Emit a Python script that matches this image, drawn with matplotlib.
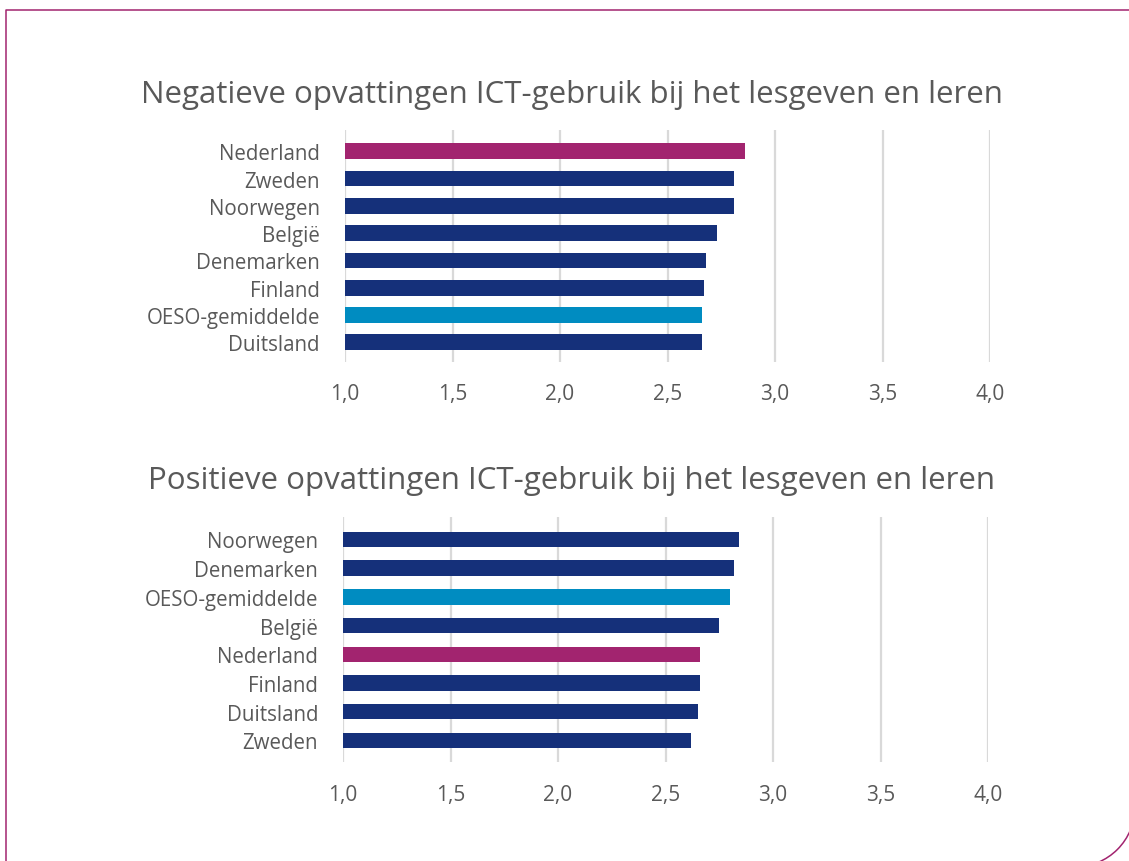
import matplotlib.pyplot as plt
from matplotlib.patches import Arc

NAVY = '#15307A'
MAGENTA = '#A2246F'
CYAN = '#008CC1'
GREY_TXT = '#595959'
GRID = '#D9D9D9'

neg_labels = ['Nederland', 'Zweden', 'Noorwegen', 'België', 'Denemarken',
              'Finland', 'OESO-gemiddelde', 'Duitsland']
neg_values = [2.86, 2.81, 2.81, 2.73, 2.68, 2.67, 2.66, 2.66]

pos_labels = ['Noorwegen', 'Denemarken', 'OESO-gemiddelde', 'België', 'Nederland',
              'Finland', 'Duitsland', 'Zweden']
pos_values = [2.84, 2.82, 2.80, 2.75, 2.66, 2.66, 2.65, 2.62]

ticks = [1.0, 1.5, 2.0, 2.5, 3.0, 3.5, 4.0]
tick_labels = ['1,0', '1,5', '2,0', '2,5', '3,0', '3,5', '4,0']

plt.rcParams['font.family'] = ['Open Sans', 'DejaVu Sans']

W, H = 1129, 862
fig = plt.figure(figsize=(W / 100, H / 100), dpi=100)


def bar_color(name):
    if name == 'Nederland':
        return MAGENTA
    if name == 'OESO-gemiddelde':
        return CYAN
    return NAVY


def draw_panel(rect, labels, values, height, ylim, pad_x):
    ax = fig.add_axes(rect)
    y = range(len(labels))
    widths = [v - 1.0 for v in values]
    ax.barh(y, widths, left=1.0, height=height,
            color=[bar_color(l) for l in labels], zorder=3)
    ax.set_xlim(1.0, 4.0)
    ax.set_ylim(*ylim)
    ax.set_xticks(ticks)
    ax.set_xticklabels(tick_labels, fontsize=15, color=GREY_TXT)
    ax.set_yticks(list(y))
    ax.set_yticklabels(labels, fontsize=14.8, color=GREY_TXT, va='center_baseline')
    ax.tick_params(axis='y', length=0, pad=18)
    ax.tick_params(axis='x', length=0, pad=pad_x)
    ax.grid(axis='x', color=GRID, linewidth=1.6, zorder=0)
    ax.set_axisbelow(True)
    for s in ax.spines.values():
        s.set_visible(False)
    return ax


draw_panel([345 / W, 1 - 363 / H, 645 / W, 232 / H], neg_labels, neg_values,
           0.58, (7.72, -0.78), 15)
draw_panel([343 / W, 1 - 763 / H, 645 / W, 245 / H], pos_labels, pos_values,
           0.54, (7.75, -0.78), 16)

fig.text(572 / W, 1 - 95 / H, 'Negatieve opvattingen ICT-gebruik bij het lesgeven en leren',
         ha='center', va='center', fontsize=22.5, color=GREY_TXT)
fig.text(572 / W, 1 - 481 / H, 'Positieve opvattingen ICT-gebruik bij het lesgeven en leren',
         ha='center', va='center', fontsize=22.5, color=GREY_TXT)

# magenta frame with rounded bottom-right corner
frame = fig.add_axes([0, 0, 1, 1], zorder=-1)
frame.set_xlim(0, W)
frame.set_ylim(H, 0)
frame.axis('off')
frame.plot([6, 6, W + 5], [H + 5, 11, 11], color=MAGENTA, linewidth=1.1)
frame.add_patch(Arc((1075, 808), 120, 120, theta1=0, theta2=90,
                    color=MAGENTA, linewidth=1.1))

fig.savefig('out.png', dpi=100)
